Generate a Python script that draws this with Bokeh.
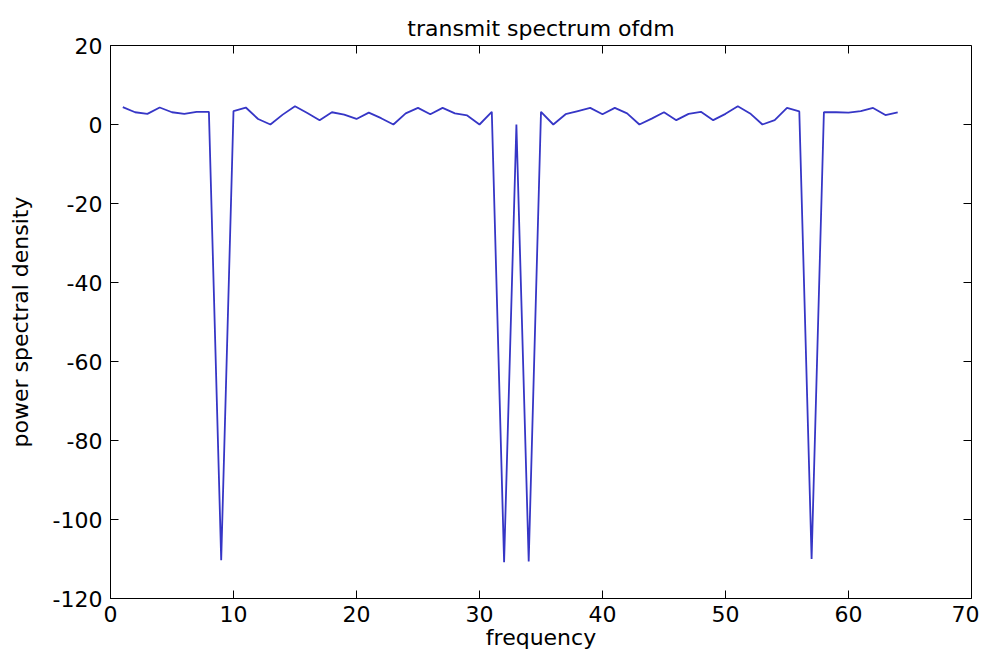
import math
from bokeh.plotting import figure
from bokeh.models import Range1d, LinearAxis, FixedTicker
from bokeh.embed import file_html
from bokeh.resources import INLINE

# Data
frequency = list(range(1, 65))
psd = [
    4.4, 3.1, 2.7, 4.3, 3.1, 2.7, 3.2, 3.2, -110.3, 3.4,
    4.3, 1.4, 0.0, 2.5, 4.6, 2.9, 1.1, 3.1, 2.5, 1.4,
    3.0, 1.6, 0.0, 2.8, 4.2, 2.6, 4.2, 2.8, 2.3, 0.0,
    3.2, -110.8, 0.0, -110.6, 3.2, 0.0, 2.6, 3.4, 4.2, 2.6,
    4.2, 2.8, 0.0, 1.5, 3.1, 1.1, 2.7, 3.2, 1.1, 2.7,
    4.6, 2.8, 0.0, 1.1, 4.2, 3.3, -110.0, 3.1, 3.1, 3.0,
    3.4, 4.2, 2.4, 3.1,
]
x_ticks = [0, 10, 20, 30, 40, 50, 60, 70]
y_ticks = [-120, -100, -80, -60, -40, -20, 0, 20]

title_text = "transmit spectrum ofdm"
x_label = "frequency"
y_label = "power spectral density"

FONT = "DejaVu Sans"
FS = "22px"
X0, X1 = 0, 70
Y0, Y1 = -120, 20

p = figure(width=979, height=652, output_backend="svg", toolbar_location=None,
           x_range=Range1d(X0, X1), y_range=Range1d(Y0, Y1),
           min_border_left=110, min_border_right=8, min_border_top=45,
           min_border_bottom=53, x_axis_location=None, y_axis_location=None)

p.title.text = title_text
p.title.align = "center"
p.title.text_font = FONT
p.title.text_font_size = FS
p.title.text_font_style = "normal"
p.title.text_color = "black"
p.title.standoff = 10

p.grid.visible = False
p.outline_line_color = "black"
p.outline_line_width = 1
p.background_fill_color = "white"
p.border_fill_color = "white"

def style_axis(ax):
    ax.axis_line_color = "black"
    ax.axis_line_width = 1
    ax.major_tick_in = 8
    ax.major_tick_out = 0
    ax.major_tick_line_color = "black"
    ax.minor_tick_line_color = None
    ax.major_label_text_font = FONT
    ax.major_label_text_font_size = FS
    ax.major_label_text_color = "black"
    ax.axis_label_text_font = FONT
    ax.axis_label_text_font_size = FS
    ax.axis_label_text_font_style = "normal"
    ax.axis_label_text_color = "black"

xb = LinearAxis(ticker=FixedTicker(ticks=x_ticks), axis_label=x_label)
style_axis(xb)
xb.major_label_standoff = 7
xb.axis_label_standoff = 0
p.add_layout(xb, "below")

yl = LinearAxis(ticker=FixedTicker(ticks=y_ticks), axis_label=y_label,
                major_label_overrides={t: str(t) for t in y_ticks})
style_axis(yl)
yl.major_label_standoff = 8
yl.axis_label_standoff = 17
p.add_layout(yl, "left")

# inward tick marks on the top and right edges of the box
p.ray(x=x_ticks, y=[Y1] * len(x_ticks), length=8, length_units="screen",
      angle=-math.pi / 2, line_color="black", line_width=1)
p.ray(x=[X1] * len(y_ticks), y=y_ticks, length=8, length_units="screen",
      angle=math.pi, line_color="black", line_width=1)

p.line(frequency, psd, line_color="#3636c6", line_width=1.8)

open("out.html", "w").write(file_html(p, INLINE))
